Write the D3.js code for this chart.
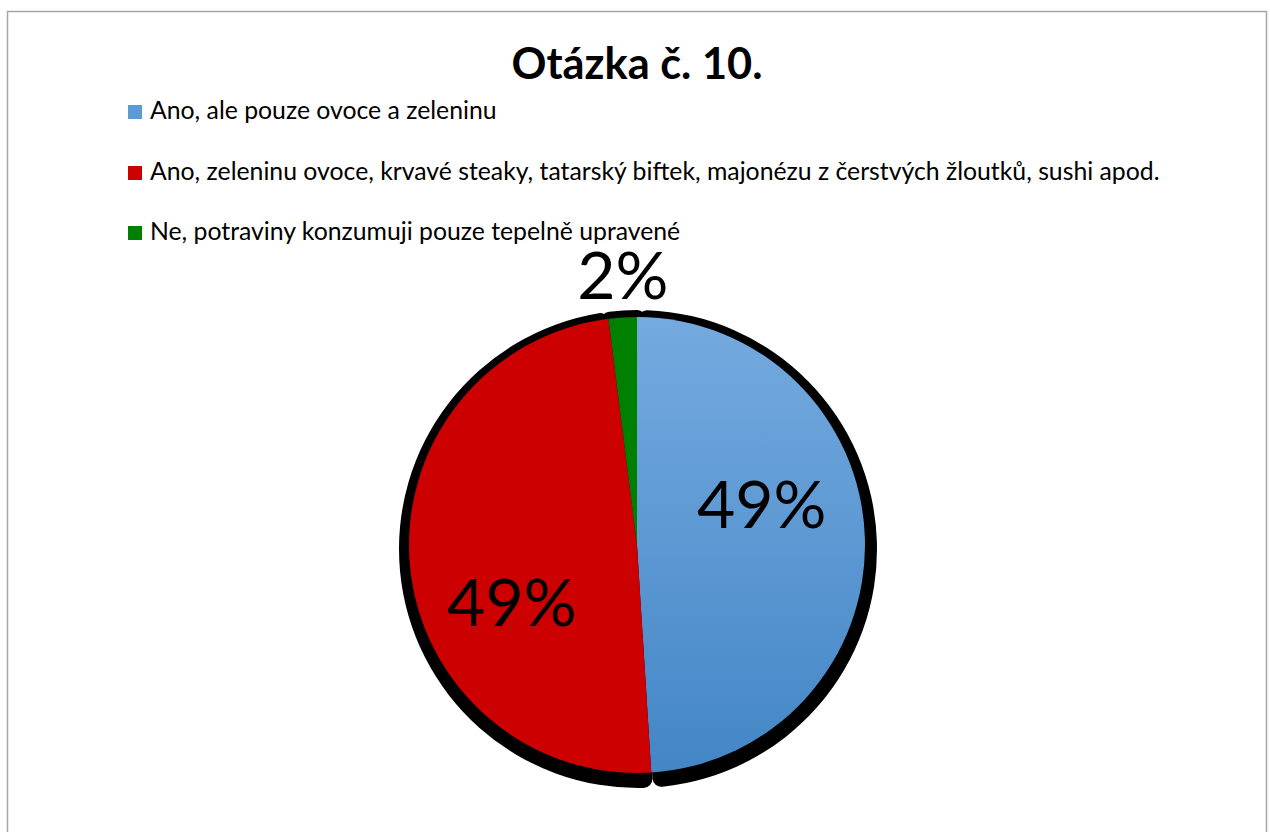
<!DOCTYPE html>
<html>
<head>
<meta charset="utf-8">
<script src="https://cdn.jsdelivr.net/npm/d3@7"></script>
<style>
  html, body { margin: 0; padding: 0; background: #fff; }
  svg { display: block; }
</style>
</head>
<body>
<svg id="chart" width="1270" height="832"></svg>
<script>
// Answers to question 10 and their shares (percent)
const title = "Otázka č. 10.";
const categories = [
  "Ano, ale pouze ovoce a zeleninu",
  "Ano, zeleninu ovoce, krvavé steaky, tatarský biftek, majonézu z čerstvých žloutků, sushi apod.",
  "Ne, potraviny konzumuji pouze tepelně upravené"
];
const values = [49, 49, 2];
const colors = ["url(#blueGrad)", "#cc0000", "#008000"];
const legendColors = ["#5b9bd5", "#cc0000", "#008000"];

const svg = d3.select("#chart");
const font = "Lato, 'Open Sans', sans-serif";

// fit a text element to a target width by adjusting its font size
function fitWidth(sel, target) {
  const node = sel.node();
  const fs = parseFloat(sel.attr("font-size"));
  const w = node.getComputedTextLength();
  sel.attr("font-size", (fs * target / w).toFixed(2));
}

// frame
svg.append("rect")
  .attr("x", 7.5).attr("y", 11.5)
  .attr("width", 1259).attr("height", 840)
  .attr("fill", "#fff")
  .attr("stroke", "#a6a6a6").attr("stroke-width", 1.5);

// pie geometry
const cx = 637, cy = 545, r = 228;

// vertical gradient for the blue slice (in the pie group's local space)
const defs = svg.append("defs");
const grad = defs.append("linearGradient")
  .attr("id", "blueGrad")
  .attr("gradientUnits", "userSpaceOnUse")
  .attr("x1", 0).attr("y1", -r).attr("x2", 0).attr("y2", r);
grad.append("stop").attr("offset", "0%").attr("stop-color", "#75aadf");
grad.append("stop").attr("offset", "100%").attr("stop-color", "#4386c6");

// title
const t = svg.append("text")
  .attr("x", 637).attr("y", 79)
  .attr("text-anchor", "middle")
  .attr("font-family", font).attr("font-weight", "bold")
  .attr("font-size", 40).attr("fill", "#000")
  .text(title);
fitWidth(t, 251);

// legend
const legendY = [112, 173, 233];
const legend = svg.append("g");
const legendTexts = [];
categories.forEach((c, i) => {
  legend.append("rect")
    .attr("x", 128).attr("y", legendY[i] - 7)
    .attr("width", 14).attr("height", 14)
    .attr("fill", legendColors[i]);
  legendTexts.push(legend.append("text")
    .attr("x", 150).attr("y", legendY[i] + 7)
    .attr("font-family", font).attr("font-size", 20)
    .attr("fill", "#000")
    .text(c));
});
// size legend text so the longest line spans its measured width
{
  const node = legendTexts[1].node();
  const w = node.getComputedTextLength();
  const fs = 20 * 1010 / w;
  legendTexts.forEach(s => s.attr("font-size", fs.toFixed(2)));
}

// pie
const pie = d3.pie().sort(null).value(d => d).startAngle(0).endAngle(2 * Math.PI);
const arcs = pie(values);

const arc = d3.arc().innerRadius(0).outerRadius(r);
const shadowArc = d3.arc().innerRadius(0).outerRadius(r + 11).cornerRadius(9);

// drop shadows behind each slice
svg.append("g")
  .attr("transform", `translate(${cx + 1},${cy + 4})`)
  .selectAll("path")
  .data(arcs)
  .join("path")
  .attr("d", d => {
    // thin slices get a slightly wider shadow
    const extra = (d.endAngle - d.startAngle) < 0.3 ? 0.035 : 0;
    return shadowArc({ ...d, startAngle: d.startAngle - extra, endAngle: d.endAngle + extra });
  })
  .attr("fill", "#000");

// slices
svg.append("g")
  .attr("transform", `translate(${cx},${cy})`)
  .selectAll("path")
  .data(arcs)
  .join("path")
  .attr("d", arc)
  .attr("fill", (d, i) => colors[i]);

// data labels: placed at a distance from the centre along a chosen angle
const labelPos = [
  { angle: 71, dist: 132 },
  { angle: 246, dist: 137 },
  { angle: 357, dist: 272 }
];
svg.append("g")
  .selectAll("text")
  .data(arcs)
  .join("text")
  .attr("x", (d, i) => cx + labelPos[i].dist * Math.sin(labelPos[i].angle * Math.PI / 180))
  .attr("y", (d, i) => cy - labelPos[i].dist * Math.cos(labelPos[i].angle * Math.PI / 180))
  .attr("text-anchor", "middle")
  .attr("dominant-baseline", "central")
  .attr("font-family", font)
  .attr("font-size", 66)
  .attr("fill", "#000")
  .text(d => d.data + "%");
</script>
</body>
</html>
